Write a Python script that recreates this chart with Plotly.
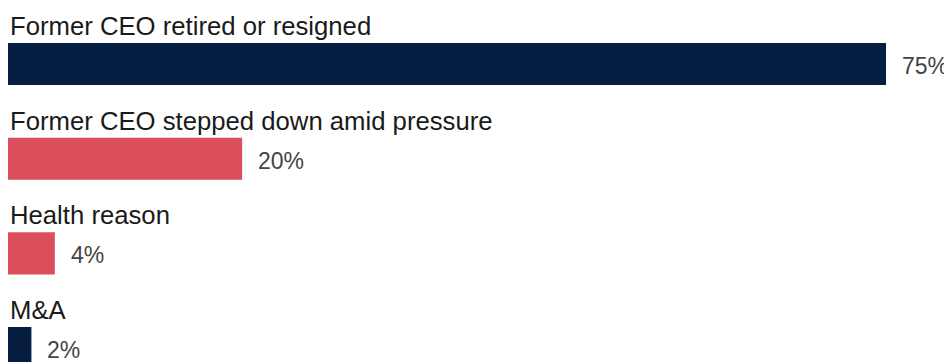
import plotly.graph_objects as go

categories = ["Former CEO retired or resigned", "Former CEO stepped down amid pressure", "Health reason", "M&A"]
values = [75, 20, 4, 2]
value_labels = ["75%", "20%", "4%", "2%"]
colors = ["#051E42", "#DD4E5D", "#DD4E5D", "#051E42"]

fig = go.Figure()
fig.add_trace(go.Bar(
    x=values, y=categories, orientation="h",
    marker=dict(color=colors, line=dict(width=0)),
    hoverinfo="skip",
))

for cat, v, lab in zip(categories, values, value_labels):
    fig.add_annotation(x=0, y=cat, xref="x", yref="y", text=cat, showarrow=False,
                       xanchor="left", yanchor="middle", yshift=38,
                       font=dict(family="Liberation Sans, Arial", size=25.7, color="#1a1a1a"))
    fig.add_annotation(x=v, y=cat, xref="x", yref="y", text=lab, showarrow=False,
                       xanchor="left", yanchor="middle", xshift=14, yshift=-2,
                       font=dict(family="Liberation Sans, Arial", size=23, color="#444444"))

fig.update_layout(
    width=952, height=362,
    margin=dict(l=0, r=0, t=0, b=0),
    paper_bgcolor="white", plot_bgcolor="white",
    bargap=0.556,
    showlegend=False,
    xaxis=dict(range=[0, 81.32], visible=False, fixedrange=True),
    yaxis=dict(type="category", categoryorder="array", categoryarray=categories,
               range=[3.232, -0.5915], visible=False, fixedrange=True),
)

fig.write_html("out.html")
